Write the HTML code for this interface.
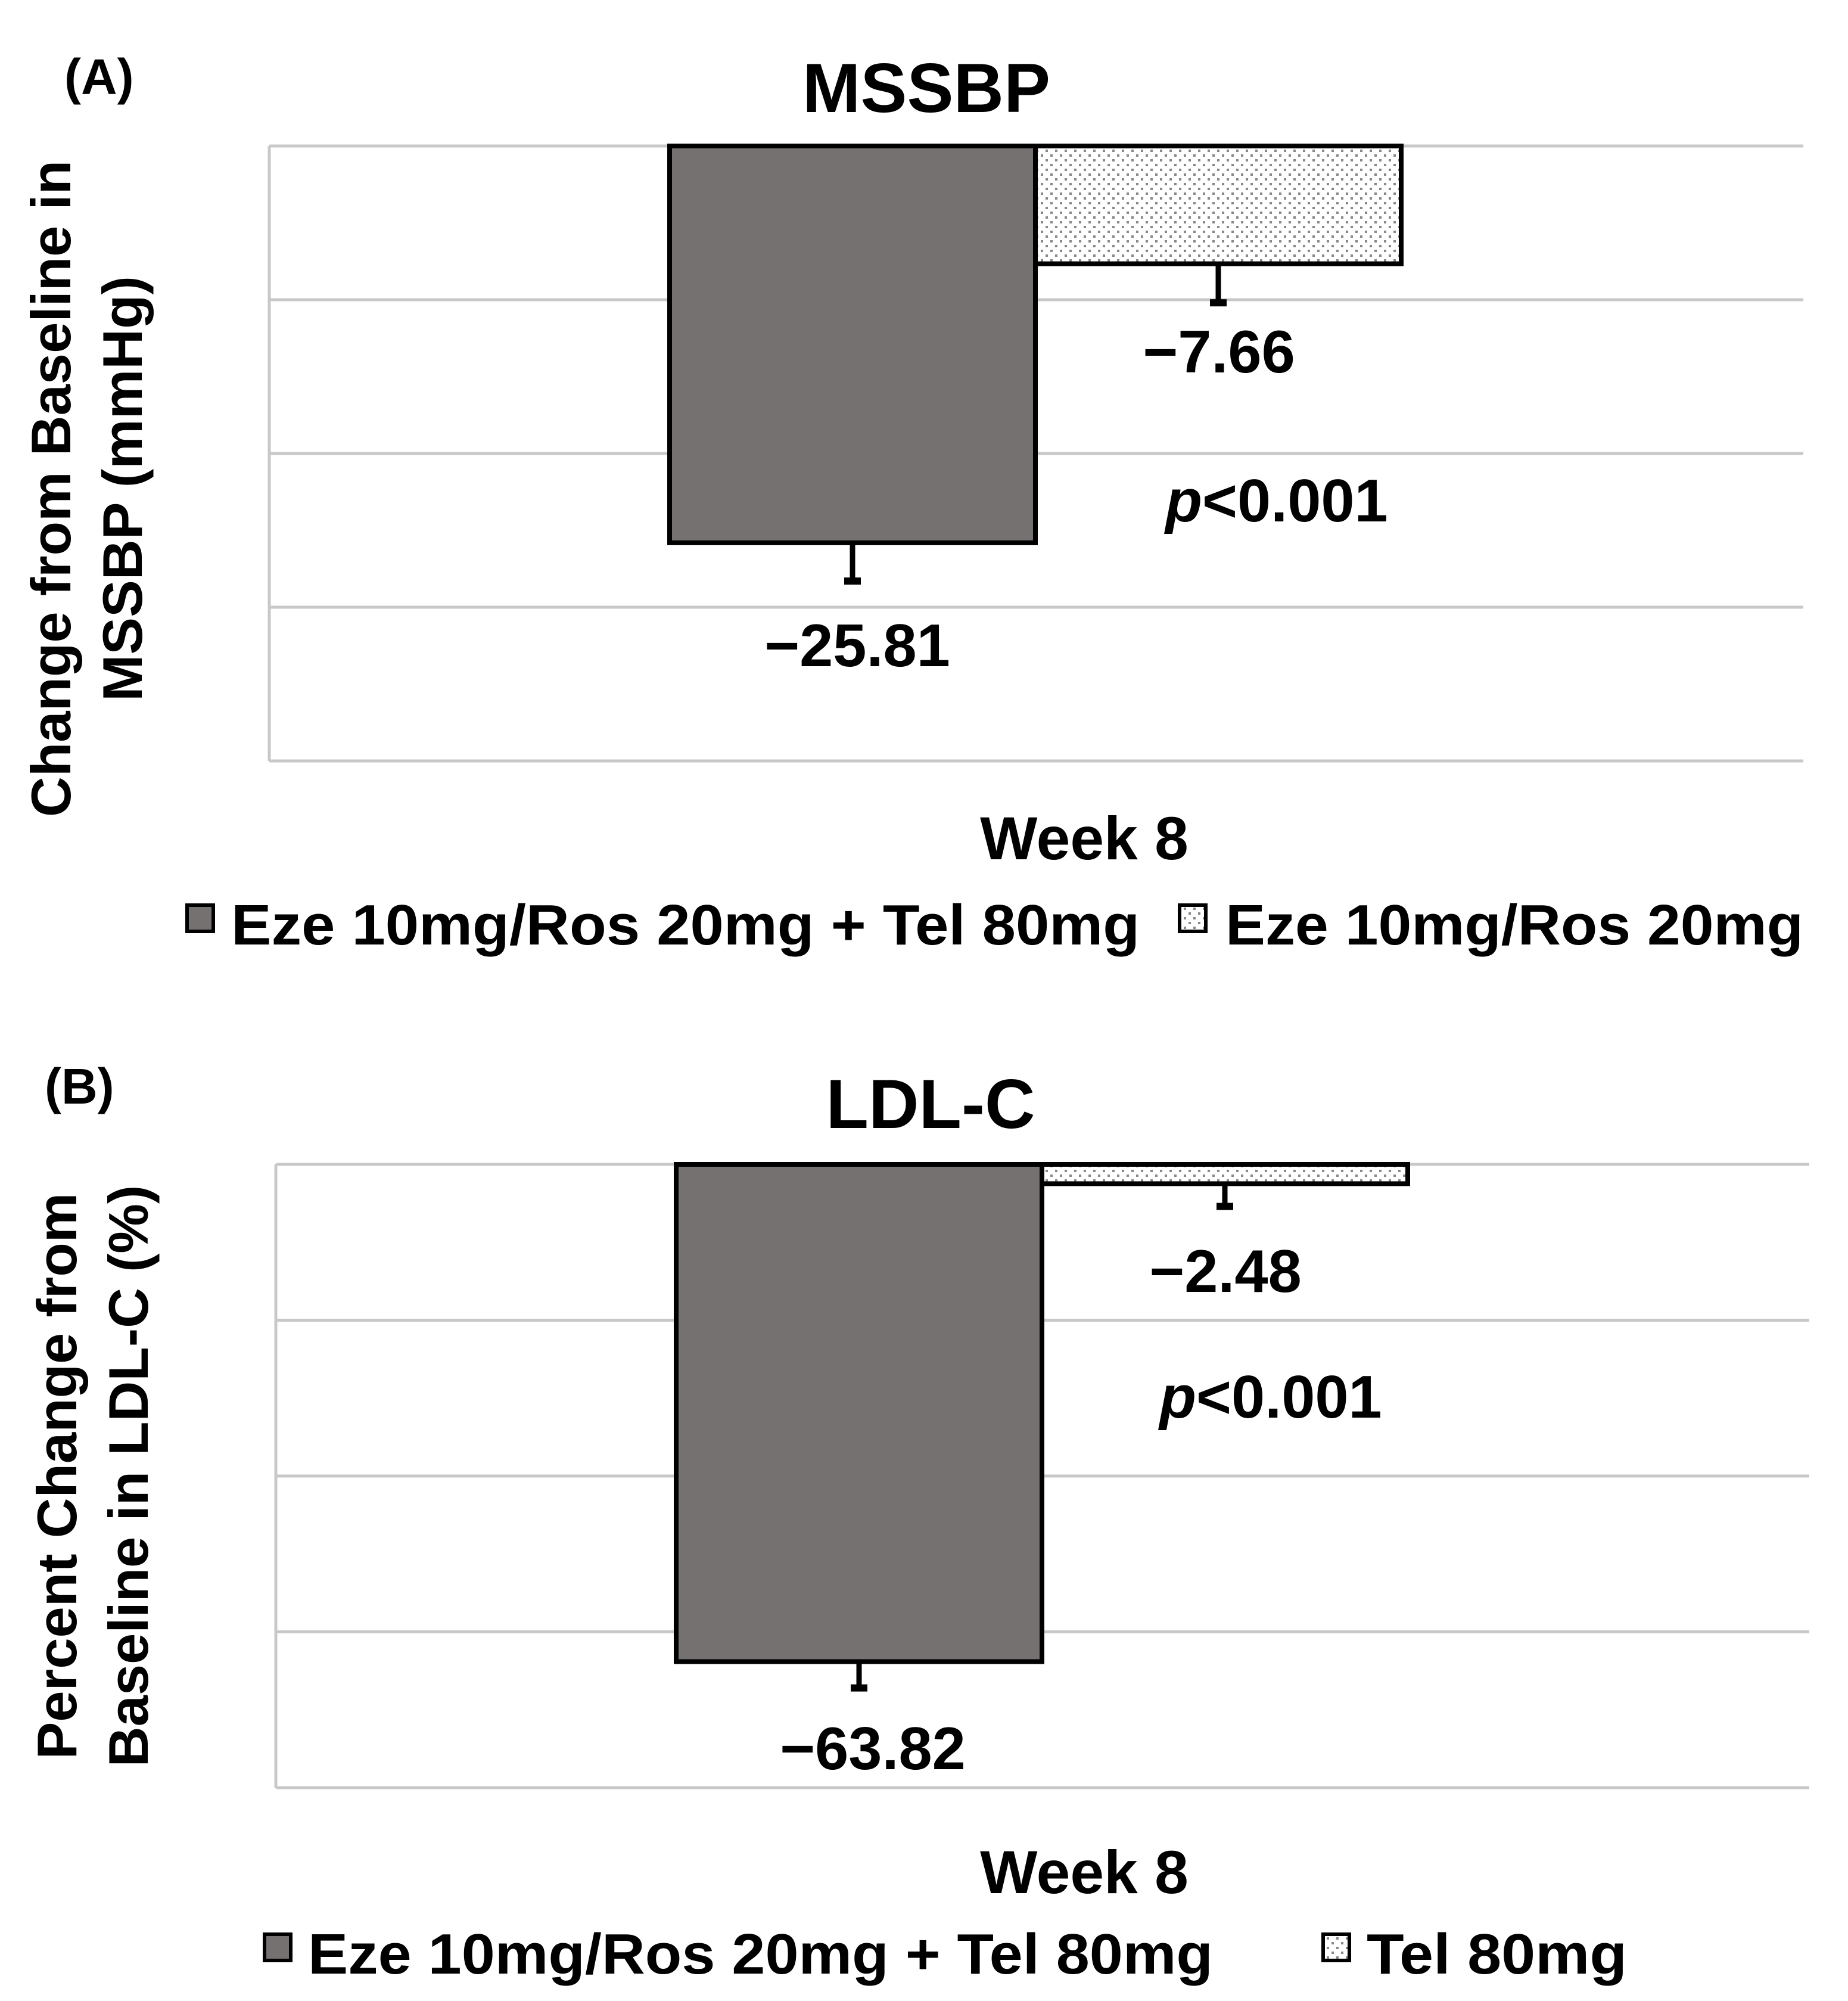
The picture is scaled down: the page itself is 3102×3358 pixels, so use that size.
<!DOCTYPE html>
<html><head><meta charset="utf-8">
<style>
html,body{margin:0;padding:0;background:#fff;}
svg{display:block;font-family:"Liberation Sans",Arial,sans-serif;font-weight:bold;}
</style></head>
<body>
<svg id="chart" width="3102" height="3358" viewBox="0 0 3102 3358" xmlns="http://www.w3.org/2000/svg">
<defs>
<pattern id="dots" width="16" height="16" patternUnits="userSpaceOnUse">
<rect width="16" height="16" fill="#fff"/>
<rect x="3" y="3" width="4" height="4" fill="#888"/>
<rect x="11" y="11" width="4" height="4" fill="#888"/>
</pattern>
</defs>
<g id="root"></g>
</svg>
<script>
// Panel A data
const catsA = ["Week 8"];
const seriesNamesA = ["Eze 10mg/Ros 20mg + Tel 80mg", "Eze 10mg/Ros 20mg"];
const valuesA = [-25.81, -7.66];
const errLowA = [-28.3, -10.2];
const labelsA = ["\u221225.81", "\u22127.66"];
const ticksA = [0, -10, -20, -30, -40];
// Panel B data
const catsB = ["Week 8"];
const seriesNamesB = ["Eze 10mg/Ros 20mg + Tel 80mg", "Tel 80mg"];
const valuesB = [-63.82, -2.48];
const errLowB = [-67.2, -5.4];
const labelsB = ["\u221263.82", "\u22122.48"];
const ticksB = [0, -20, -40, -60, -80];

const NS = "http://www.w3.org/2000/svg";
const root = document.getElementById("root");
function mk(tag, attrs, parent, text) {
  const e = document.createElementNS(NS, tag);
  for (const k in attrs) e.setAttribute(k, attrs[k]);
  if (text !== undefined) e.textContent = text;
  (parent || root).appendChild(e);
  return e;
}

function panel(cfg) {
  const g = mk("g", {});
  
  
  const ymin = cfg.ticks[cfg.ticks.length - 1], ymax = cfg.ticks[0];
  const y = v => cfg.top + (ymax - v) / (ymax - ymin) * (cfg.bottom - cfg.top);
  cfg.ticks.forEach(t => {
    const l = mk("line", {x1: cfg.left, x2: cfg.right, y1: y(t), y2: y(t), stroke: "#c8c8c8", "stroke-width": 5}, g);
    
    
  });
  const ax = mk("line", {x1: cfg.left, x2: cfg.left, y1: cfg.top, y2: cfg.bottom, stroke: "#c8c8c8", "stroke-width": 5}, g);
  
  
  cfg.values.forEach((v, i) => {
    const x0 = cfg.barX + i * cfg.barW;
    const r = mk("rect", {x: x0, y: y(0), width: cfg.barW, height: y(v) - y(0),
      fill: i === 0 ? "#767171" : "url(#dots)", stroke: "#000", "stroke-width": 8}, g);
    
    
    const cx = x0 + cfg.barW / 2;
    const e = mk("line", {x1: cx, x2: cx, y1: y(v), y2: y(cfg.err[i]), stroke: "#000", "stroke-width": 9}, g);
    
    
    const c = mk("rect", {x: cx - 14, y: y(cfg.err[i]) - 6, width: 28, height: 12, fill: "#000"}, g);
    
    
    const lb = mk("text", {x: cfg.labelPos[i][0], y: cfg.labelPos[i][1], "font-size": 101, "text-anchor": "middle"}, g, cfg.labels[i]);
    
    
  });
  const p = mk("text", {x: cfg.pPos[0], y: cfg.pPos[1], "font-size": 101, "text-anchor": "middle"}, g);
  
  
  mk("tspan", {"font-style": "italic"}, p, "p");
  mk("tspan", {}, p, "<0.001");
  const pl = mk("text", {x: cfg.tagPos[0], y: cfg.tagPos[1], "font-size": 84}, g, cfg.tag);
  
  
  const ti = mk("text", {x: cfg.titlePos[0], y: cfg.titlePos[1], "font-size": 117, "text-anchor": "middle"}, g, cfg.title);
  
  
  cfg.ytitle.forEach((s, k) => {
    const tx = cfg.ytX[k], ty = cfg.ytY;
    const yt = mk("text", {x: tx, y: ty, "font-size": 94, "text-anchor": "middle", transform: `rotate(-90 ${tx} ${ty})`}, g, s);
    
    
  });
  const xl = mk("text", {x: 1820, y: cfg.weekY, "font-size": 102, "text-anchor": "middle"}, g, cfg.cats[0]);
  
  
  cfg.series.forEach((s, i) => {
    const L = cfg.legend[i];
    const sw = mk("rect", {x: L[0], y: cfg.legY - 66, width: 44, height: 44,
      fill: i === 0 ? "#767171" : "url(#dots)", stroke: "#000", "stroke-width": 6}, g);
    
    
    const t = mk("text", {x: L[1], y: cfg.legY, "font-size": 96, textLength: L[2] - L[1], lengthAdjust: "spacingAndGlyphs"}, g, s);
    
    
  });
}

panel({name: "panel-a-mssbp", tag: "(A)", tagPos: [108, 158], title: "MSSBP", titlePos: [1555, 188],
  left: 452, right: 3027, top: 245, bottom: 1277, ticks: ticksA, values: valuesA, err: errLowA,
  barX: 1124, barW: 614, labels: labelsA, labelPos: [[1439, 1118], [2046, 625]], pPos: [2143, 875],
  ytitle: ["Change from Baseline in", "MSSBP (mmHg)"], ytX: [118, 238], ytY: 820,
  cats: catsA, weekY: 1442, series: seriesNamesA, legY: 1585,
  legend: [[314, 388, 1913], [1980, 2057, 3027]]});

panel({name: "panel-b-ldlc", tag: "(B)", tagPos: [75, 1852], title: "LDL-C", titlePos: [1562, 1893],
  left: 463, right: 3037, top: 1954, bottom: 3000, ticks: ticksB, values: valuesB, err: errLowB,
  barX: 1135, barW: 614, labels: labelsB, labelPos: [[1465, 2969], [2057, 2168]], pPos: [2133, 2379],
  ytitle: ["Percent Change from", "Baseline in LDL-C (%)"], ytX: [128, 248], ytY: 2477,
  cats: catsB, weekY: 3177, series: seriesNamesB, legY: 3312,
  legend: [[444, 517, 2036], [2221, 2294, 2731]]});
</script>
</body></html>
